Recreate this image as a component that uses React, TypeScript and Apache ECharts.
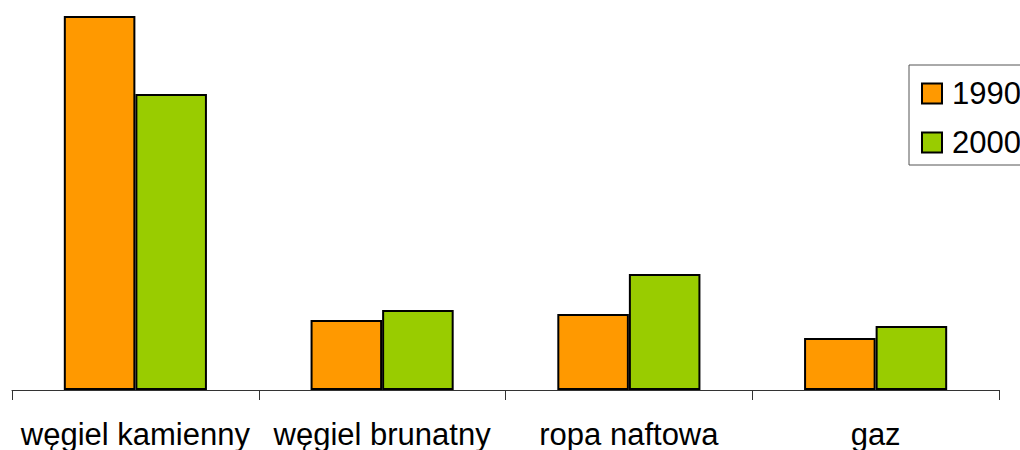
import React, { useEffect, useRef } from "react";
import * as echarts from "echarts";

// Energy carriers and their values for the two years
const categories = ["węgiel kamienny", "węgiel brunatny", "ropa naftowa", "gaz"];
const seriesNames = ["1990", "2000"];
const values1990 = [93.5, 17.5, 19, 13];
const values2000 = [74, 20, 29, 16];

const FONT = "Arial, 'Liberation Sans', sans-serif";

export default function App() {
  const ref = useRef<HTMLDivElement>(null);

  useEffect(() => {
    document.body.style.margin = "0";
    if (!ref.current) return;
    const chart = echarts.init(ref.current, undefined, { renderer: "svg" });
    const barStyle = { borderColor: "#000", borderWidth: 2 };
    chart.setOption({
      animation: false,
      backgroundColor: "#fff",
      grid: { left: 12, right: 21, top: 10, bottom: 60, containLabel: false },
      legend: {
        orient: "vertical",
        left: 909,
        top: 65,
        padding: [13, 12, 7, 12],
        borderColor: "#555",
        borderWidth: 1,
        itemWidth: 20,
        itemHeight: 20,
        itemGap: 18,
        icon: "rect",
        data: seriesNames,
        textStyle: {
          fontFamily: FONT,
          fontSize: 31,
          lineHeight: 30,
          color: "#000",
          padding: [0, 0, 0, 5],
        },
      },
      xAxis: {
        type: "category",
        data: categories,
        boundaryGap: true,
        axisLine: { lineStyle: { color: "#333", width: 1 } },
        axisTick: { show: true, length: 10, alignWithLabel: false, lineStyle: { color: "#333" } },
        axisLabel: {
          interval: 0,
          margin: 29,
          fontFamily: FONT,
          fontSize: 31,
          color: "#000",
        },
      },
      yAxis: {
        type: "value",
        min: 0,
        max: 95,
        show: false,
        splitLine: { show: false },
      },
      series: [
        {
          name: seriesNames[0],
          type: "bar",
          data: values1990,
          barGap: "0%",
          barCategoryGap: "42%",
          itemStyle: { color: "#FF9900", ...barStyle },
        },
        {
          name: seriesNames[1],
          type: "bar",
          data: values2000,
          barGap: "0%",
          barCategoryGap: "42%",
          itemStyle: { color: "#99CC00", ...barStyle },
        },
      ],
    });
    return () => chart.dispose();
  }, []);

  return <div ref={ref} style={{ width: 1020, height: 450 }} />;
}
